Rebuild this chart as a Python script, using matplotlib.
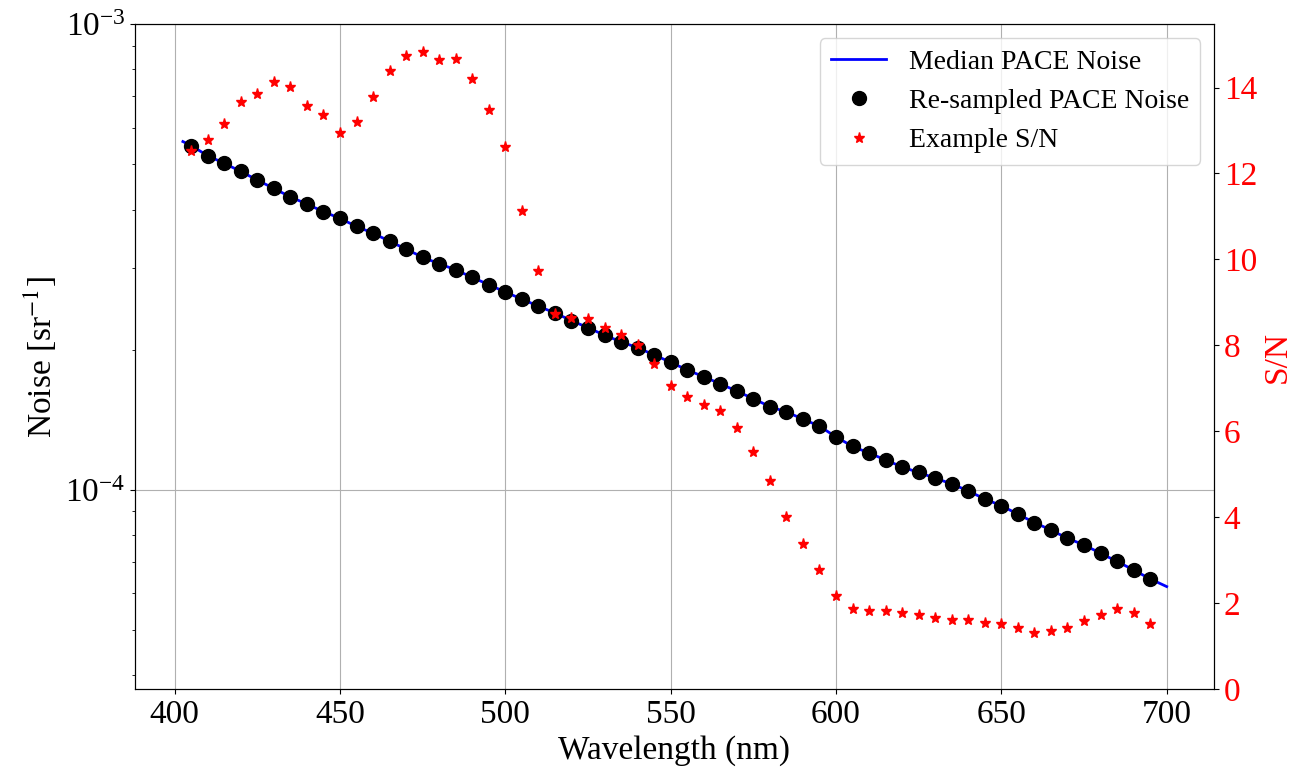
import numpy as np
import matplotlib
matplotlib.use("Agg")
import matplotlib.pyplot as plt

plt.rcParams['font.family'] = ['Liberation Serif', 'DejaVu Serif']
plt.rcParams['mathtext.fontset'] = 'stix'

# re-sampled wavelengths (nm)
wavelength = list(range(405, 700, 5))

# re-sampled PACE noise (sr^-1)
noise = [
    5.49e-4, 5.22e-4, 5.03e-4, 4.83e-4, 4.63e-4, 4.44e-4, 4.26e-4, 4.11e-4,
    3.96e-4, 3.83e-4, 3.68e-4, 3.56e-4, 3.42e-4, 3.29e-4, 3.16e-4, 3.06e-4,
    2.97e-4, 2.86e-4, 2.76e-4, 2.66e-4, 2.57e-4, 2.48e-4, 2.40e-4, 2.31e-4,
    2.23e-4, 2.15e-4, 2.08e-4, 2.02e-4, 1.95e-4, 1.88e-4, 1.81e-4, 1.75e-4,
    1.69e-4, 1.63e-4, 1.57e-4, 1.51e-4, 1.47e-4, 1.42e-4, 1.37e-4, 1.30e-4,
    1.24e-4, 1.20e-4, 1.16e-4, 1.12e-4, 1.09e-4, 1.06e-4, 1.03e-4, 9.95e-5,
    9.56e-5, 9.25e-5, 8.87e-5, 8.51e-5, 8.20e-5, 7.87e-5, 7.62e-5, 7.31e-5,
    7.02e-5, 6.73e-5, 6.44e-5,
]

# median PACE noise curve (endpoints at 402.5 and 700 nm)
median_wl = [402.5] + wavelength + [700]
median_noise = [5.60e-4] + noise + [6.20e-5]

# example signal-to-noise
snr = [
    12.52, 12.79, 13.15, 13.66, 13.86, 14.13, 14.02, 13.56, 13.35, 12.94,
    13.19, 13.78, 14.38, 14.73, 14.82, 14.64, 14.67, 14.19, 13.47, 12.62,
    11.12, 9.74, 8.74, 8.63, 8.61, 8.40, 8.25, 8.01, 7.57, 7.06,
    6.79, 6.61, 6.48, 6.07, 5.53, 4.85, 4.01, 3.39, 2.77, 2.17,
    1.88, 1.82, 1.82, 1.78, 1.74, 1.67, 1.62, 1.61, 1.55, 1.51,
    1.43, 1.32, 1.35, 1.43, 1.58, 1.74, 1.86, 1.78, 1.51,
]

fig, ax1 = plt.subplots(figsize=(13.09, 7.72), dpi=100)
fig.subplots_adjust(left=0.1031, right=0.9274, top=0.9685, bottom=0.1071)

l1, = ax1.plot(median_wl, median_noise, color='blue', lw=2, label='Median PACE Noise')
l2, = ax1.plot(wavelength, noise, 'o', color='black', ms=10, label='Re-sampled PACE Noise')
ax1.set_yscale('log')
ax1.set_ylim(3.73e-5, 1e-3)
ax1.set_xlim(388, 714.3)
ax1.grid(True)
ax1.set_xlabel('Wavelength (nm)', fontsize=24)
ax1.set_ylabel('Noise [sr$^{-1}$]', fontsize=24)
ax1.tick_params(labelsize=24)

ax2 = ax1.twinx()
l3, = ax2.plot(wavelength, snr, '*', color='red', ms=8, label='Example S/N')
ax2.set_ylim(0, 15.47)
ax2.set_yticks(np.arange(0, 15, 2))
ax2.set_ylabel('S/N', color='red', fontsize=24)
ax2.tick_params(axis='y', labelcolor='red', labelsize=24)

ax2.legend(handles=[l1, l2, l3], loc='upper right', fontsize=20)

fig.savefig('out.png', dpi=100)
